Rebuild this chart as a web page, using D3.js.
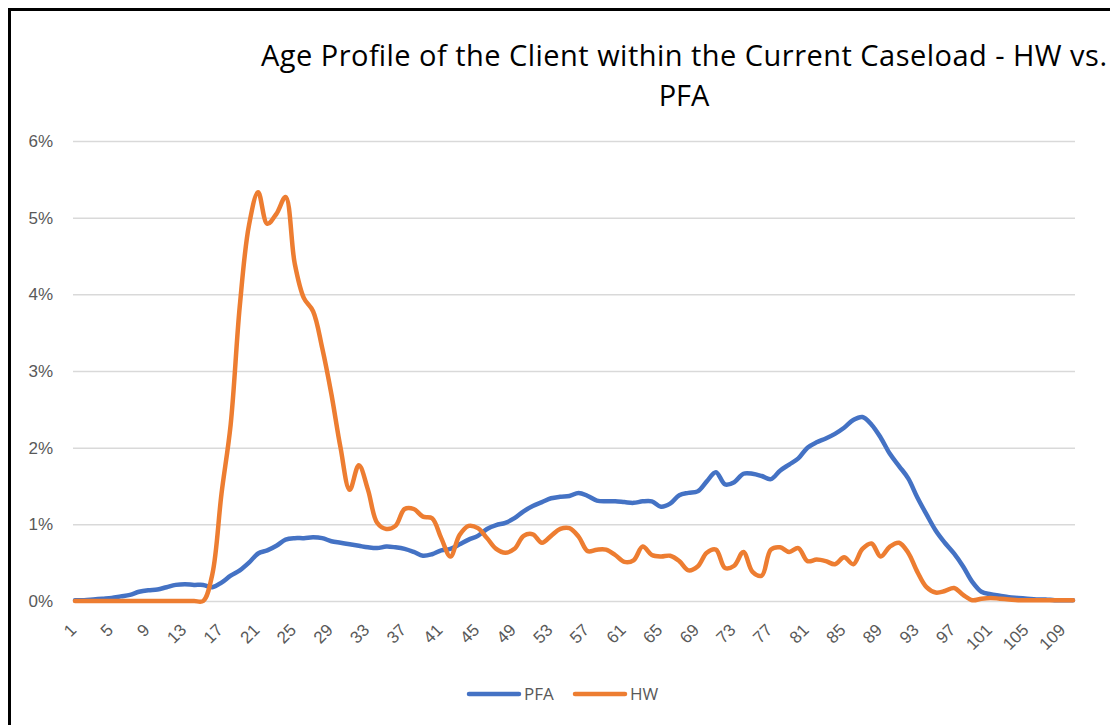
<!DOCTYPE html>
<html>
<head>
<meta charset="utf-8">
<script src="https://cdn.jsdelivr.net/npm/d3@7"></script>
<style>
  body { margin: 0; background: #fff; }
  svg { display: block; font-family: 'Open Sans', 'Noto Sans', sans-serif; }
</style>
</head>
<body>
<svg id="chart" width="1110" height="725"></svg>
<script>
// ages 1..110
const ages = d3.range(1, 111)

// share of caseload per age, in percent
const pfaValues = [
  0.01, 0.01, 0.02, 0.03, 0.04, 0.06, 0.08, 0.12, 0.14, 0.15,
  0.18, 0.21, 0.22, 0.21, 0.21, 0.18, 0.24, 0.33, 0.40, 0.50,
  0.62, 0.66, 0.72, 0.80, 0.82, 0.82, 0.83, 0.82, 0.78, 0.76,
  0.74, 0.72, 0.70, 0.69, 0.71, 0.70, 0.68, 0.64, 0.59, 0.61,
  0.66, 0.68, 0.74, 0.80, 0.85, 0.94, 0.99, 1.02, 1.08, 1.17,
  1.24, 1.29, 1.34, 1.36, 1.37, 1.41, 1.37, 1.31, 1.30, 1.30,
  1.29, 1.28, 1.30, 1.30, 1.23, 1.27, 1.38, 1.41, 1.43, 1.56,
  1.68, 1.52, 1.55, 1.66, 1.66, 1.63, 1.59, 1.70, 1.78, 1.86,
  2.00, 2.07, 2.12, 2.18, 2.26, 2.36, 2.40, 2.30, 2.13, 1.92,
  1.76, 1.60, 1.35, 1.13, 0.92, 0.76, 0.62, 0.45, 0.25, 0.12,
  0.09, 0.07, 0.05, 0.04, 0.03, 0.02, 0.02, 0.01, 0.01, 0.01
]

const hwValues = [
  0, 0, 0, 0, 0, 0, 0, 0, 0, 0,
  0, 0, 0, 0, 0, 0.35, 1.40, 2.30, 3.85, 4.90,
  5.33, 4.92, 5.05, 5.27, 4.40, 3.95, 3.78, 3.30, 2.70, 2.00,
  1.45, 1.77, 1.45, 1.02, 0.94, 0.98, 1.20, 1.20, 1.10, 1.08,
  0.82, 0.58, 0.86, 0.98, 0.95, 0.82, 0.68, 0.63, 0.68, 0.85,
  0.87, 0.76, 0.85, 0.94, 0.95, 0.84, 0.65, 0.67, 0.67, 0.60,
  0.51, 0.53, 0.71, 0.60, 0.58, 0.59, 0.52, 0.40, 0.45, 0.63,
  0.67, 0.43, 0.46, 0.64, 0.38, 0.33, 0.67, 0.70, 0.64, 0.69,
  0.52, 0.54, 0.52, 0.48, 0.57, 0.48, 0.68, 0.75, 0.58, 0.71,
  0.76, 0.63, 0.38, 0.18, 0.11, 0.13, 0.17, 0.08, 0.01, 0.03,
  0.04, 0.03, 0.02, 0.01, 0.01, 0.01, 0.01, 0.01, 0.01, 0.01
]

const yTickValues = [0, 1, 2, 3, 4, 5, 6]
const xTickValues = ages.filter(a => (a - 1) % 4 === 0)

const series = [
  { name: 'PFA', color: '#4472C4', values: pfaValues },
  { name: 'HW', color: '#ED7D31', values: hwValues }
]

const svg = d3.select('#chart')

// frame (only top and left edges fall inside the picture)
svg.append('rect')
  .attr('x', 9.5)
  .attr('y', 9.5)
  .attr('width', 1300)
  .attr('height', 900)
  .attr('fill', 'none')
  .attr('stroke', '#000')
  .attr('stroke-width', 3)

// plot geometry
const plotLeft = 73
const plotRight = 1075
const plotTop = 141
const plotBottom = 601

const xScale = d3.scalePoint()
  .domain(ages)
  .range([75, 1073])
const yScale = d3.scaleLinear()
  .domain([0, 6])
  .range([plotBottom, plotTop])

// gridlines
const yAxis = d3.axisLeft(yScale)
  .tickValues(yTickValues)
  .tickSize(-(plotRight - plotLeft))
  .tickPadding(20)
  .tickFormat(d => d + '%')
const yAxisG = svg.append('g')
  .attr('transform', `translate(${ plotLeft }, 0)`)
  .call(yAxis)
yAxisG.select('.domain').remove()
yAxisG.selectAll('line')
  .attr('stroke', '#d9d9d9')
  .attr('stroke-width', 1.5)
yAxisG.selectAll('text')
  .attr('fill', '#595959')
  .style('font-size', '17px')

// x axis labels
const xAxis = d3.axisBottom(xScale)
  .tickValues(xTickValues)
  .tickSize(0)
  .tickPadding(0)
const xAxisG = svg.append('g')
  .attr('transform', `translate(0, ${ plotBottom })`)
  .call(xAxis)
xAxisG.select('.domain').remove()
xAxisG.selectAll('text')
  .attr('fill', '#595959')
  .style('font-size', '17px')
  .attr('text-anchor', 'end')
  .attr('dy', null)
  .attr('y', 0)
  .attr('transform', 'translate(2, 30) rotate(-45)')

// lines
const line = d3.line()
  .x((d, i) => xScale(ages[i]))
  .y(d => yScale(d))
  .curve(d3.curveCatmullRom.alpha(0.5))

series.forEach(s => {
  svg.append('path')
    .datum(s.values)
    .attr('fill', 'none')
    .attr('stroke', s.color)
    .attr('stroke-width', 4.5)
    .attr('stroke-linejoin', 'round')
    .attr('stroke-linecap', 'round')
    .attr('d', line)
})

// title
const title = svg.append('text')
  .attr('text-anchor', 'middle')
  .attr('fill', '#000')
  .style('font-size', '29px')
title.append('tspan')
  .attr('x', 684)
  .attr('y', 66)
  .attr('textLength', 846)
  .text('Age Profile of the Client within the Current Caseload - HW vs.')
title.append('tspan')
  .attr('x', 684)
  .attr('y', 106)
  .text('PFA')

// legend
const legend = svg.append('g')
const legendItems = [
  { x: 469, s: series[0] },
  { x: 575, s: series[1] }
]
legendItems.forEach(item => {
  legend.append('line')
    .attr('x1', item.x)
    .attr('x2', item.x + 50)
    .attr('y1', 694)
    .attr('y2', 694)
    .attr('stroke', item.s.color)
    .attr('stroke-width', 4.5)
    .attr('stroke-linecap', 'round')
  legend.append('text')
    .attr('x', item.x + 55)
    .attr('y', 700)
    .attr('fill', '#595959')
    .style('font-size', '17px')
    .text(item.s.name)
})
</script>
</body>
</html>
